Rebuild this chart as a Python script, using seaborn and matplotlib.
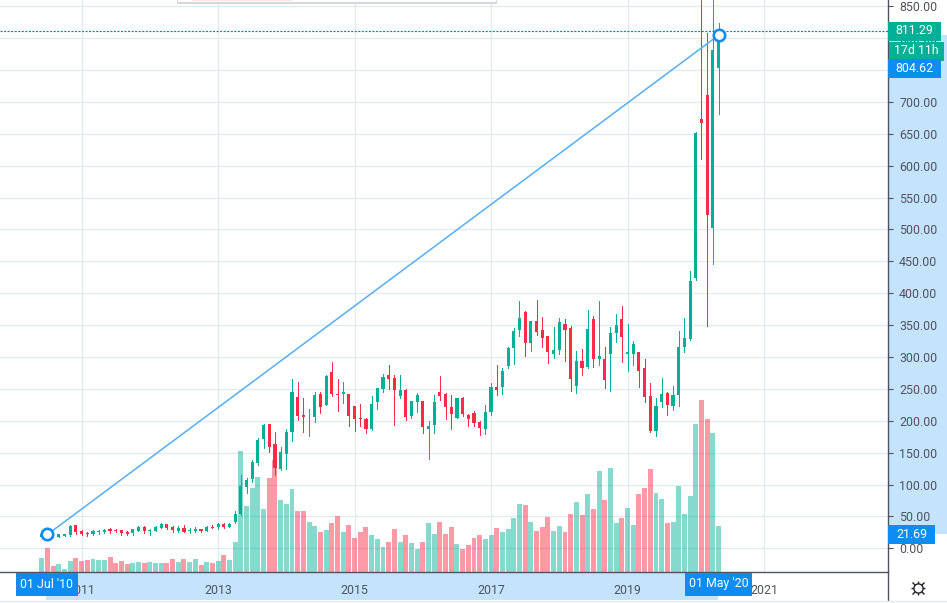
import numpy as np
import pandas as pd
import matplotlib
matplotlib.use('Agg')
import matplotlib.pyplot as plt
from matplotlib.patches import Rectangle
import seaborn as sns

# monthly candles, Jun 2010 to May 2020
opens = [18, 21.7, 20, 17.7, 19.3, 20.3, 36, 26.6, 23.5, 21.9, 25, 25, 29.7, 28.2, 28.2, 25, 23.5, 26.6, 32.9, 27.1,
         26.6, 31.3, 37.6, 32.9, 26.6, 31.3, 26.6, 26.6, 29.7, 26.6, 32.9, 32.9, 37.6, 32.9, 40.7, 53.3, 95.6, 108.1, 133.2, 170.8,
         194.3, 163, 123.8, 147.3, 182.8, 237.7, 209.5, 206.9, 206.4, 242.4, 225.2, 276.9, 242.4, 242.4, 242.4, 223.6, 204.8, 203.2, 187.5, 229.9,
         250.2, 272.2, 267.5, 239.2, 248.7, 207.9, 229.8, 231.4, 187.5, 193.8, 245.5, 242.4, 222, 204.8, 236.1, 209.5, 212.6, 198.5, 187.5, 214.2,
         253.4, 253.4, 286.3, 314.5, 342.7, 370.9, 322.3, 356.8, 342.7, 333.3, 305.1, 311.4, 352.1, 345.8, 254.9, 294.1, 284.7, 359.9, 297.2, 297.2,
         305.1, 338, 359.9, 305.1, 305.1, 308.2, 283.1, 239.2, 184.4, 229.8, 243.9, 223.6, 240.8, 316, 328.6, 424, 673.5, 711, 502.6, 753.4]
highs = [29, 24, 21, 22.5, 22, 36, 36, 28.2, 25, 28.2, 28.2, 29.7, 31.3, 29.7, 28.2, 26.6, 29.7, 34.4, 34.4, 29.7,
         34.4, 39.1, 37.6, 34.4, 34.4, 36, 31.3, 32.9, 29.7, 34.4, 36, 39.1, 39.1, 39.1, 58, 114.4, 109.7, 137.9, 172.4, 194.3,
         194.3, 181.8, 158.3, 186.5, 265.9, 261.2, 236.1, 218.9, 245.5, 245.5, 272.2, 292.6, 265.9, 261.2, 242.4, 223.6, 226.7, 204.8, 239.3, 251.8,
         273.8, 287.8, 272.2, 272.2, 250.2, 231.4, 243.9, 231.4, 200, 240.8, 270.6, 243.9, 240.8, 236.1, 237.7, 211, 215.7, 200, 225.1, 259.6,
         287.8, 283.1, 316, 345.8, 388.2, 372.5, 356.8, 389.7, 363.1, 333.3, 347.4, 361.5, 359.9, 349, 309.8, 312.9, 374, 364.6, 388.2, 316,
         347.4, 367.8, 380.3, 352.1, 325.5, 308.2, 297.2, 259.6, 236.1, 267.5, 245.5, 254.9, 341.1, 361.5, 435, 653, 969, 808, 900, 824]
lows = [17, 17, 17, 17, 19, 19.3, 23, 20.3, 18.8, 20.3, 21.9, 23.5, 23.5, 25, 20.3, 20.3, 20.3, 26.6, 23.5, 20.3,
        26.6, 31.3, 29.7, 25, 25, 25, 23.5, 25, 25, 26.6, 31.8, 29.7, 31.3, 32.9, 39.1, 51.7, 86.2, 103.4, 130.1, 156.7,
        150.4, 114.4, 122.2, 123.8, 168.7, 201.7, 182.8, 176.6, 198.5, 212.6, 225.2, 239.3, 215.8, 228.3, 192.2, 184.4, 192.2, 181.3, 186, 218.9,
        245.5, 250.2, 193.8, 236.1, 201.6, 204.8, 214.2, 181.2, 140.5, 181.2, 233, 203.2, 187.5, 204.8, 207.9, 192.2, 192.2, 178.1, 179.7, 209.5,
        240.8, 242.4, 283.1, 289.4, 333.3, 301.9, 309.8, 334.9, 316, 291, 298.8, 305.1, 294.1, 247.1, 243.9, 272.2, 283.1, 284.7, 287.8, 251.8,
        247.1, 323.9, 292.5, 278.4, 287.8, 253.4, 229.8, 182.8, 176.5, 222, 209.5, 217.3, 223.6, 308.2, 327, 421, 610.8, 349, 446, 681]
closes = [21.7, 20, 18.5, 21.9, 21.9, 34.4, 25, 21.9, 21.9, 27.6, 26.6, 29.2, 26.6, 26.6, 23.5, 21.9, 29.7, 32.9, 26.6, 28.2,
          32.9, 37.6, 31.3, 28.2, 31.3, 25, 28.2, 29.7, 26.6, 32.9, 31.8, 37.6, 32.9, 37.6, 53.3, 97.1, 106.6, 134.8, 169.2, 192.8,
          158.3, 125.4, 150.4, 181.8, 245.5, 207.9, 206.4, 207.9, 240.8, 222, 270.6, 242.4, 240.8, 245.5, 207.9, 203.2, 203.2, 187.5, 226.7, 251.8,
          269, 265.9, 248.7, 248.7, 206.3, 231.4, 240.8, 190.7, 192.2, 229.8, 239.2, 222, 211, 236.1, 211, 203.2, 196.9, 189.1, 214.2, 253.4,
          248.7, 278.4, 314.5, 341.1, 361.5, 322.3, 356.8, 339.6, 330.2, 308.2, 311.4, 355.2, 342.7, 265.9, 294.1, 283.1, 344.3, 297.2, 301.9, 264.3,
          338, 350.5, 331.7, 308.2, 320.8, 278.4, 237.7, 184.4, 223.6, 242.4, 225.1, 240.8, 316, 330.2, 419.5, 651.5, 667, 523, 781.6, 811.3]
# volume in arbitrary units, no scale on the chart
volumes = [14.3, 24.3, 6.3, 8.3, 3.3, 11.3, 14.3, 11.3, 12.3, 13.3, 12.3, 12.3, 15.3, 9.3, 11.3, 8.3, 9.3, 10.3, 9.3, 10.3,
           9.3, 9.3, 9.3, 13.3, 10.3, 13.3, 10.3, 13.3, 7.3, 10.3, 9.3, 11.3, 17.3, 12.3, 30.3, 121, 66.3, 84.3, 95.3, 63.3,
           94.3, 112.3, 72.3, 68.3, 83.3, 61.3, 61.3, 50.3, 46.3, 40, 42, 49, 56, 40, 47, 34, 40, 45, 37, 33,
           25, 30, 43, 30, 37, 29, 23, 30, 49, 38, 50, 38, 45, 28, 23, 27, 34, 37, 33, 37,
           44, 40, 43, 54, 68, 67, 50, 41, 45, 55, 41, 46, 40, 58, 70, 57, 78, 63, 101, 72,
           104, 49, 54, 64, 47, 78, 84, 103, 79, 73, 49, 50, 86, 58, 76, 148, 172, 153, 139, 46]

price_ticks = list(range(0, 900, 50))
year_idx = [7, 31, 55, 79, 103, 127]
year_labels = ['2011', '2013', '2015', '2017', '2019', '2021']
trend_idx = [1, 119]
trend_price = [21.69, 804.62]

GREEN = '#00b197'
RED = '#ff2a44'
BLUE = '#0d8df2'
PANEL = '#c4e3fc'
GRID = '#e1ecf2'
AXIS = '#50535e'

sns.set_theme(style='white')
plt.rcParams['font.family'] = ['Roboto', 'DejaVu Sans']

df = pd.DataFrame({'open': opens, 'high': highs, 'low': lows, 'close': closes, 'volume': volumes})
df['month'] = np.arange(len(df))
df['dir'] = np.where(df['close'] >= df['open'], 'up', 'down')
df['body_low'] = df[['open', 'close']].min(axis=1)
df['body_h'] = (df['open'] - df['close']).abs().clip(lower=1.2)

ymin, ymax = -37.2, 859.9
fig = plt.figure(figsize=(9.47, 6.03), dpi=100, facecolor='white')
ax = fig.add_axes([0, 31 / 603, 888 / 947, 572 / 603])
ax.set_facecolor('none')
pal = {'up': GREEN, 'down': RED}

# panels behind the axes
fig.add_artist(Rectangle((888 / 947, 69 / 603), 59 / 947, 499 / 603, color=PANEL, lw=0, zorder=-1))
fig.add_artist(Rectangle((46 / 947, 3 / 603), 672 / 947, 28 / 603, color=PANEL, lw=0, zorder=-1))

# volume sits on the bottom of the price axis
vol_scale = 1 / 0.6376
df['vol_h'] = df['volume'] * vol_scale
sns.barplot(data=df, x='month', y='vol_h', hue='dir', palette=pal, hue_order=['up', 'down'], native_scale=True, saturation=1,
            dodge=False, width=0.87, errorbar=None, legend=False, ax=ax, bottom=ymin, alpha=0.48, linewidth=0, zorder=2)

up = df[df['dir'] == 'up']
down = df[df['dir'] == 'down']
ax.vlines(up['month'], up['low'], up['high'], color=GREEN, lw=0.72, antialiased=False, zorder=3)
ax.vlines(down['month'], down['low'], down['high'], color=RED, lw=0.72, antialiased=False, zorder=3)
sns.barplot(data=df, x='month', y='body_h', hue='dir', palette=pal, hue_order=['up', 'down'], native_scale=True, saturation=1,
            dodge=False, width=0.55, errorbar=None, legend=False, ax=ax, bottom=df['body_low'].iloc[0], linewidth=0, zorder=4, alpha=0)
# seaborn keeps one bottom per call, so shift each body patch to its own low
for group, cont in zip(['up', 'down'], ax.containers[-2:]):
    sub = df[df['dir'] == group]
    for patch, low in zip(cont.patches, sub['body_low']):
        patch.set_y(low)
        patch.set_alpha(1)

ax.plot(trend_idx, trend_price, color='#56aef5', lw=1.1, zorder=5)
ax.plot(trend_idx, trend_price, ls='none', marker='o', ms=8.2, mfc='white', mec=BLUE, mew=1.9, zorder=6)
ax.axhline(811.29, color='#0f8f7c', lw=0.85, ls=(0, (1.8, 1.2)), zorder=5)

ax.set_xlim(-7.35, 148.8)
ax.set_ylim(ymin, ymax)
ax.set_xlabel('')
ax.set_ylabel('')
ax.set_xticks(year_idx, year_labels)
ax.set_yticks(price_ticks, [f'{p:.2f}' for p in price_ticks])
ax.yaxis.tick_right()
ax.grid(True, color=GRID, lw=1)
ax.set_axisbelow(True)
ax.tick_params(axis='both', length=3.5, width=0.8, color=AXIS, labelcolor=AXIS, labelsize=8.9)
ax.tick_params(axis='x', pad=5)
ax.tick_params(axis='y', pad=4.5)
for side in ['top', 'left']:
    ax.spines[side].set_visible(False)
for side in ['bottom', 'right']:
    ax.spines[side].set_color(AXIS)
    ax.spines[side].set_linewidth(1)
    ax.spines[side].set_zorder(7)

# overlay in pixel coordinates for the floating labels
ov = fig.add_axes([0, 0, 1, 1], zorder=10)
ov.set_xlim(0, 947)
ov.set_ylim(603, 0)
ov.axis('off')


def tag(x0, y0, x1, y1, text, color):
    ov.add_patch(Rectangle((x0, y0), x1 - x0, y1 - y0, color=color, lw=0))
    ov.text((x0 + x1) / 2, (y0 + y1) / 2 - 0.5, text, color='white', fontsize=8.9, ha='center', va='center')


tag(888, 22, 941, 41, '811.29', GREEN)
tag(889, 42, 944, 61, '17d 11h', GREEN)
tag(888, 59, 941, 78, '804.62', BLUE)
tag(888, 525, 935, 544, '21.69', BLUE)
tag(16, 573, 78, 596, "01 Jul '10", BLUE)
tag(685, 573, 752, 596, "01 May '20", BLUE)

ov.plot([888, 888], [572, 600], color=AXIS, lw=1)
ov.plot([0, 947], [600.5, 600.5], color='#e4e7ec', lw=1)

# settings gear
ov.plot([918], [587.5], marker='+', ms=10.5, mew=1, color='#20222a', ls='none')
ov.plot([918], [587.5], marker='x', ms=8, mew=1, color='#20222a', ls='none')
ov.plot([918], [587.5], marker='o', ms=6.6, mew=1, mfc='white', mec='#20222a', ls='none')

# bottom edge of the floating toolbar at the top
ov.add_patch(Rectangle((177, 0), 320, 3.5, color='#d5d7df', lw=0))
ov.add_patch(Rectangle((178, 0), 318, 2, color='white', lw=0))
ov.add_patch(Rectangle((192, 0), 100, 1, color='#fde3e6', lw=0))

fig.savefig('out.png', dpi=100)
